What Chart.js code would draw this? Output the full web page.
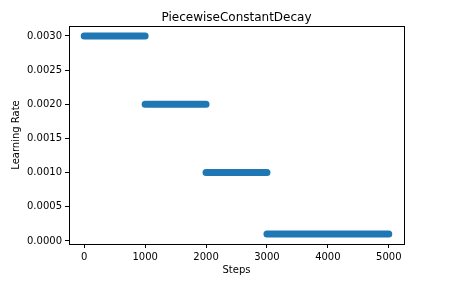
<!DOCTYPE html>
<html>
<head>
<meta charset="utf-8">
<title>PiecewiseConstantDecay</title>
<script src="https://cdn.jsdelivr.net/npm/chart.js@4.4.1/dist/chart.umd.min.js"></script>
<style>
  html, body { margin: 0; padding: 0; background: #fff; }
  canvas { display: block; }
</style>
</head>
<body>
<canvas id="grafico" width="449" height="292"></canvas>
<script>
// tramos de la tasa de aprendizaje
const segStart = [0, 1000, 2000, 3000];
const segEnd = [1000, 2000, 3000, 5000];
const segRate = [0.003, 0.002, 0.001, 0.0001];

// ticks de los ejes
const xTicks = [0, 1000, 2000, 3000, 4000, 5000];
const yTicks = [0, 0.0005, 0.001, 0.0015, 0.002, 0.0025, 0.003];

const azul = '#1f77b4';
const fuente = { family: 'DejaVu Sans', size: 10 };

// cada tramo: inicio, fin y un null para cortar la linea
const puntos = [];
segStart.forEach((s, i) => {
    puntos.push({ x: s, y: segRate[i] });
    puntos.push({ x: segEnd[i], y: segRate[i] });
    puntos.push({ x: segEnd[i], y: null });
});

// fondo blanco, marco completo y titulo centrado sobre el area
const marco = {
    id: 'marco',
    beforeDraw(chart) {
        const ctx = chart.ctx;
        ctx.save();
        ctx.fillStyle = '#fff';
        ctx.fillRect(0, 0, chart.width, chart.height);
        ctx.restore();
    },
    afterDraw(chart) {
        const { ctx, chartArea: a } = chart;
        ctx.save();
        ctx.strokeStyle = '#000';
        ctx.lineWidth = 1;
        ctx.strokeRect(Math.round(a.left) + 0.5, Math.round(a.top) + 0.5,
            Math.round(a.right - a.left), Math.round(a.bottom - a.top));
        ctx.fillStyle = '#000';
        ctx.font = '12px "DejaVu Sans"';
        ctx.textAlign = 'center';
        ctx.textBaseline = 'alphabetic';
        ctx.fillText('PiecewiseConstantDecay', (a.left + a.right) / 2, 21);
        ctx.restore();
    }
};

new Chart(document.getElementById('grafico'), {
    type: 'line',
    data: {
        datasets: [{
            data: puntos,
            borderColor: azul,
            backgroundColor: azul,
            borderWidth: 7,
            borderCapStyle: 'round',
            borderJoinStyle: 'round',
            pointRadius: 0,
            spanGaps: false,
            fill: false,
            tension: 0
        }]
    },
    options: {
        responsive: false,
        animation: false,
        devicePixelRatio: 1,
        layout: { padding: { left: 0, right: 45, top: 26, bottom: 0 } },
        plugins: {
            legend: { display: false },
            tooltip: { enabled: false }
        },
        scales: {
            x: {
                type: 'linear',
                min: -250,
                max: 5250,
                afterBuildTicks: s => { s.ticks = xTicks.map(v => ({ value: v })); },
                afterFit: s => { s.height = 48; },
                grid: { drawOnChartArea: false, tickLength: 4, color: '#000', tickColor: '#000' },
                border: { display: false },
                ticks: { font: fuente, color: '#000', padding: 3, maxRotation: 0, callback: v => String(v) },
                title: { display: true, text: 'Steps', font: fuente, color: '#000', padding: { top: 0, bottom: 16 } }
            },
            y: {
                type: 'linear',
                min: -0.000045,
                max: 0.003145,
                afterBuildTicks: s => { s.ticks = yTicks.map(v => ({ value: v })); },
                afterFit: s => { s.width = 69; },
                grid: { drawOnChartArea: false, tickLength: 4, color: '#000', tickColor: '#000' },
                border: { display: false },
                ticks: { font: fuente, color: '#000', padding: 3, callback: v => v.toFixed(4) },
                title: { display: true, text: 'Learning Rate', font: fuente, color: '#000', padding: { top: 10.5, bottom: 0 } }
            }
        }
    },
    plugins: [marco]
});
</script>
</body>
</html>
